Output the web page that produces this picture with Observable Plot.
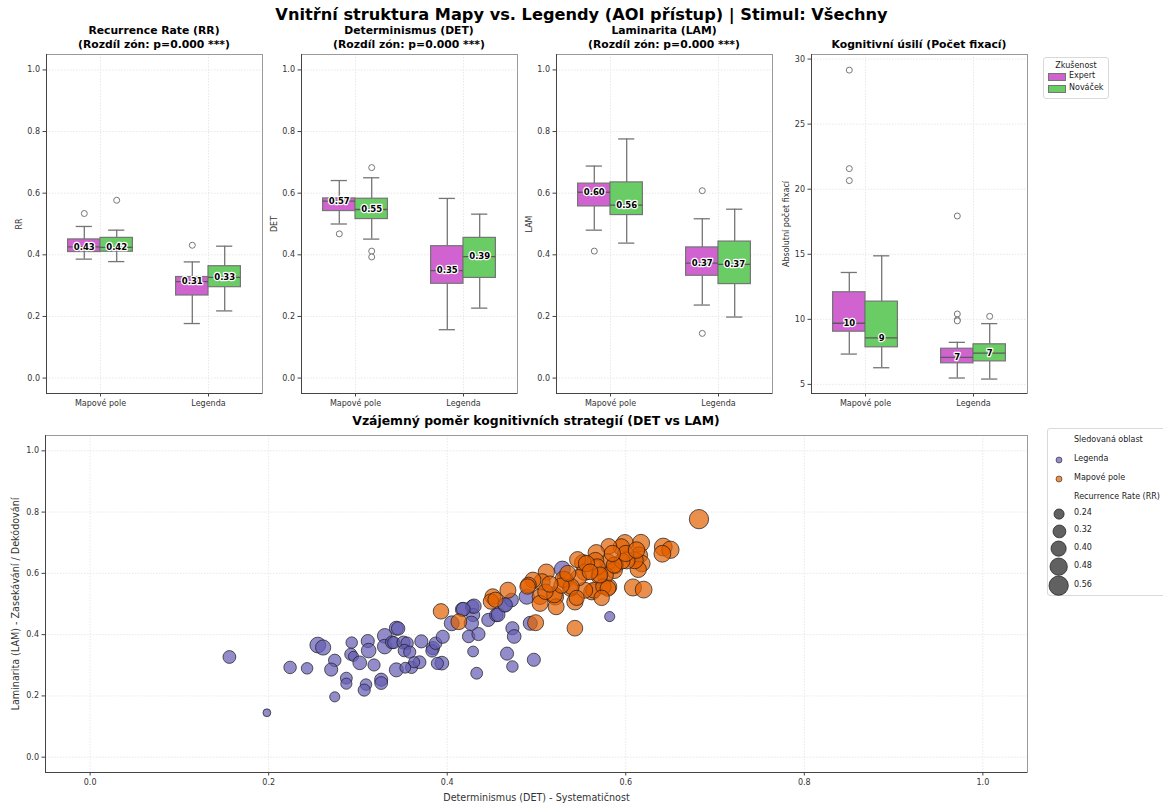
<!DOCTYPE html>
<html><head><meta charset="utf-8">
<script src="https://cdn.jsdelivr.net/npm/d3@7"></script>
<script src="https://cdn.jsdelivr.net/npm/@observablehq/plot@0.6"></script>
<style>
body{margin:0;width:1163px;height:803px;position:relative;background:#fff;font-family:"DejaVu Sans",sans-serif;overflow:hidden;color:#222}
.abs{position:absolute}
.ttl{position:absolute;font-weight:bold;text-align:center;color:#000;white-space:nowrap}
.lg{position:absolute;border:1px solid #d9d9d9;border-radius:3px;background:#fff;font-size:8px}
.lg span{position:absolute;white-space:nowrap}
</style></head><body>
<script>
// ---------------- DATA ----------------
const zones = ["Mapové pole", "Legenda"];
const groups = ["Expert", "Nováček"];
const groupColors = ["#d163d1", "#6acc65"];
// box order: Expert-Mapové, Nováček-Mapové, Expert-Legenda, Nováček-Legenda
const boxZone = [0, 0, 1, 1];
const boxGroup = [0, 1, 0, 1];

const rrLow  = [0.386, 0.378, 0.177, 0.218];
const rrQ1   = [0.409, 0.410, 0.268, 0.295];
const rrMed  = [0.426, 0.424, 0.313, 0.327];
const rrQ3   = [0.450, 0.455, 0.328, 0.363];
const rrHigh = [0.492, 0.480, 0.377, 0.428];
const rrOut  = [[0.534], [0.577], [0.431], []];

const detLow  = [0.500, 0.451, 0.157, 0.227];
const detQ1   = [0.542, 0.516, 0.306, 0.325];
const detMed  = [0.574, 0.547, 0.349, 0.394];
const detQ3   = [0.583, 0.582, 0.428, 0.455];
const detHigh = [0.641, 0.650, 0.583, 0.532];
const detOut  = [[0.468], [0.683, 0.412, 0.393], [], []];

const lamLow  = [0.480, 0.438, 0.237, 0.198];
const lamQ1   = [0.557, 0.529, 0.332, 0.305];
const lamMed  = [0.603, 0.561, 0.373, 0.369];
const lamQ3   = [0.631, 0.635, 0.424, 0.443];
const lamHigh = [0.688, 0.776, 0.517, 0.548];
const lamOut  = [[0.412], [], [0.608, 0.145], []];

const fixLow  = [7.33, 6.28, 5.49, 5.41];
const fixQ1   = [9.05, 7.85, 6.62, 6.77];
const fixMed  = [9.70, 8.57, 7.08, 7.41];
const fixQ3   = [12.08, 11.36, 7.74, 8.08];
const fixHigh = [13.6, 14.88, 8.23, 9.67];
const fixOut  = [[29.15, 21.58, 20.66], [], [17.94, 10.41, 9.95, 9.88], [10.23]];

const unitTicks = [0, 0.2, 0.4, 0.6, 0.8, 1.0];
const fixTicks = [5, 10, 15, 20, 25, 30];

// Scatter: Legenda (purple)
const legDET = [0.156,0.198,0.224,0.243,0.255,0.261,0.274,0.270,0.274,0.293,0.292,0.295,0.287,0.287,0.302,0.311,0.312,0.318,0.309,0.307,0.326,0.326,0.330,0.330,0.338,0.343,0.345,0.343,0.340,0.351,0.355,0.352,0.358,0.360,0.369,0.371,0.384,0.383,0.387,0.395,0.394,0.405,0.417,0.428,0.429,0.427,0.424,0.435,0.429,0.433,0.430,0.446,0.455,0.464,0.472,0.473,0.475,0.467,0.473,0.497,0.489,0.529,0.582,0.493,0.418,0.363,0.389,0.353,0.457,0.465];
const legLAM = [0.327,0.145,0.293,0.290,0.366,0.358,0.316,0.286,0.197,0.374,0.336,0.329,0.258,0.240,0.308,0.379,0.348,0.301,0.237,0.219,0.253,0.242,0.396,0.361,0.375,0.421,0.420,0.285,0.374,0.374,0.372,0.348,0.343,0.293,0.310,0.378,0.356,0.347,0.372,0.393,0.307,0.437,0.482,0.491,0.464,0.437,0.394,0.402,0.345,0.274,0.493,0.448,0.464,0.497,0.513,0.421,0.394,0.338,0.296,0.318,0.524,0.614,0.459,0.437,0.483,0.310,0.306,0.292,0.465,0.497];
const legRR  = [0.32,0.18,0.31,0.28,0.42,0.40,0.31,0.33,0.24,0.28,0.30,0.24,0.29,0.27,0.35,0.33,0.38,0.30,0.28,0.30,0.33,0.32,0.38,0.38,0.32,0.36,0.34,0.36,0.30,0.33,0.31,0.31,0.30,0.30,0.32,0.33,0.33,0.31,0.31,0.33,0.35,0.39,0.36,0.34,0.33,0.37,0.31,0.33,0.26,0.29,0.37,0.33,0.34,0.36,0.35,0.33,0.35,0.33,0.28,0.33,0.40,0.43,0.24,0.36,0.35,0.27,0.30,0.26,0.35,0.37];

// Scatter: Mapové pole (orange)
const mapDET = [0.682,0.642,0.650,0.641,0.617,0.615,0.618,0.614,0.610,0.599,0.595,0.581,0.601,0.608,0.620,0.588,0.580,0.587,0.581,0.577,0.570,0.567,0.566,0.568,0.552,0.546,0.554,0.562,0.564,0.554,0.547,0.543,0.532,0.521,0.522,0.538,0.511,0.506,0.504,0.504,0.496,0.491,0.499,0.543,0.468,0.451,0.449,0.393,0.413,0.530,0.539,0.520,0.510,0.575,0.580,0.571,0.556,0.596,0.490,0.454,0.587,0.560,0.528,0.515,0.535,0.600,0.612,0.585,0.545,0.573];
const mapLAM = [0.777,0.686,0.677,0.664,0.699,0.659,0.632,0.613,0.643,0.699,0.686,0.688,0.642,0.554,0.547,0.626,0.637,0.610,0.556,0.594,0.591,0.667,0.641,0.621,0.634,0.645,0.604,0.540,0.545,0.545,0.586,0.507,0.578,0.524,0.491,0.551,0.604,0.572,0.524,0.502,0.578,0.562,0.439,0.421,0.545,0.524,0.508,0.476,0.442,0.581,0.557,0.530,0.540,0.557,0.551,0.595,0.632,0.640,0.557,0.514,0.627,0.605,0.560,0.565,0.600,0.665,0.676,0.665,0.520,0.520];
const mapRR  = [0.56,0.50,0.48,0.46,0.48,0.46,0.45,0.44,0.47,0.47,0.45,0.42,0.46,0.47,0.46,0.46,0.44,0.45,0.43,0.44,0.43,0.45,0.46,0.44,0.46,0.43,0.45,0.44,0.42,0.43,0.44,0.44,0.45,0.46,0.43,0.42,0.44,0.45,0.42,0.43,0.43,0.42,0.43,0.42,0.43,0.42,0.41,0.41,0.42,0.44,0.42,0.43,0.41,0.41,0.42,0.43,0.44,0.42,0.41,0.40,0.43,0.42,0.41,0.44,0.43,0.44,0.45,0.44,0.40,0.41];

const zoneNames = ["Legenda", "Mapové pole"];
const zoneColors = ["#645db3", "#e35f00"];

// ---------------- HELPERS ----------------
const FONT = "DejaVu Sans";
const gridC = "#dedede";
function el(tag, cls, style, html) {
  const e = document.createElement(tag);
  if (cls) e.className = cls;
  Object.assign(e.style, style || {});
  if (html != null) e.innerHTML = html;
  document.body.appendChild(e);
  return e;
}
function boxRows(low, q1, med, q3, high) {
  return boxZone.map((z, i) => ({
    zi: z, gi: boxGroup[i], xc: z + (boxGroup[i] === 0 ? -0.15 : 0.15),
    low: low[i], q1: q1[i], med: med[i], q3: q3[i], high: high[i]
  }));
}
function outRows(outs) {
  return outs.flatMap((arr, i) => arr.map(v => ({xc: boxZone[i] + (boxGroup[i] === 0 ? -0.15 : 0.15), v})));
}
const lineC = "#757575";
function panel({left, rows, outs, yDomain, yTicks, yFmt, yLabel, labelFmt, labelOffset}) {
  const marks = [
    Plot.gridY(yTicks, {stroke: gridC, strokeOpacity: 1, strokeDasharray: "1.5,1.5", strokeWidth: 0.7}),
    Plot.gridX([0, 1], {stroke: gridC, strokeOpacity: 1, strokeDasharray: "1.5,1.5", strokeWidth: 0.7}),
    Plot.axisX([0, 1], {tickFormat: i => zones[i], tickSize: 3.5, tickPadding: 3, label: null, fontSize: 8, stroke: "#444"}),
    Plot.axisY(yTicks, {tickFormat: yFmt, tickSize: 3.5, tickPadding: 3, label: yLabel, labelAnchor: "center", labelArrow: "none", labelOffset, fontSize: 8, stroke: "#444"}),
    Plot.ruleX(rows, {x: "xc", y1: "low", y2: "q1", stroke: lineC, strokeWidth: 1.3}),
    Plot.ruleX(rows, {x: "xc", y1: "q3", y2: "high", stroke: lineC, strokeWidth: 1.3}),
    Plot.ruleY(rows, {y: "low", x1: d => d.xc - 0.075, x2: d => d.xc + 0.075, stroke: lineC, strokeWidth: 1.3}),
    Plot.ruleY(rows, {y: "high", x1: d => d.xc - 0.075, x2: d => d.xc + 0.075, stroke: lineC, strokeWidth: 1.3}),
    Plot.rect(rows, {x1: d => d.xc - 0.15, x2: d => d.xc + 0.15, y1: "q1", y2: "q3", fill: d => groupColors[d.gi], stroke: lineC, strokeWidth: 1.2}),
    Plot.ruleY(rows, {y: "med", x1: d => d.xc - 0.15, x2: d => d.xc + 0.15, stroke: "#5a5a5a", strokeWidth: 1.3}),
    Plot.dot(outs, {x: "xc", y: "v", r: 3, stroke: "#777", strokeWidth: 1, fill: "white"}),
    Plot.text(rows, {x: "xc", y: "med", text: d => labelFmt(d.med), fontWeight: "bold", fill: "#000", stroke: "white", strokeWidth: 2.5, fontSize: 8.5, fontFamily: FONT}),
    Plot.frame({stroke: "#9a9a9a", strokeWidth: 1}),
    Plot.ruleX([-0.5], {stroke: "#444", strokeWidth: 1}),
    Plot.ruleY([yDomain[0]], {stroke: "#444", strokeWidth: 1})
  ];
  const p = Plot.plot({
    width: 270, height: 410, marginLeft: 46, marginRight: 8, marginTop: 54, marginBottom: 17,
    x: {domain: [-0.5, 1.5]},
    y: {domain: yDomain},
    style: {fontFamily: FONT, fontSize: "8px", color: "#333", background: "transparent", overflow: "visible"},
    marks
  });
  p.style.position = "absolute"; p.style.left = (left - 46) + "px"; p.style.top = "0px";
  document.body.appendChild(p);
}

// ---------------- TITLES ----------------
el("div", "ttl", {left: "0px", width: "1163px", top: "5px", fontSize: "16.2px"}, "Vnitřní struktura Mapy vs. Legendy (AOI přístup) | Stimul: Všechny");
const ptitles = [
  [46, "Recurrence Rate (RR)<br>(Rozdíl zón: p=0.000 ***)"],
  [301, "Determinismus (DET)<br>(Rozdíl zón: p=0.000 ***)"],
  [556, "Laminarita (LAM)<br>(Rozdíl zón: p=0.000 ***)"],
  [811, "Kognitivní úsilí (Počet fixací)"]
];
ptitles.forEach(([l, t], i) => el("div", "ttl", {left: (l - 40) + "px", width: "296px", top: (i === 3 ? 38 : 24) + "px", fontSize: "10.8px", lineHeight: "14px"}, t));

// ---------------- BOX PANELS ----------------
const f2 = d3.format(".2f"), f0 = d3.format(".0f"), f1 = d3.format(".1f");
panel({left: 46, rows: boxRows(rrLow, rrQ1, rrMed, rrQ3, rrHigh), outs: outRows(rrOut), yDomain: [-0.05, 1.05], yTicks: unitTicks, yFmt: f1, yLabel: "RR", labelFmt: f2, labelOffset: 30});
panel({left: 301, rows: boxRows(detLow, detQ1, detMed, detQ3, detHigh), outs: outRows(detOut), yDomain: [-0.05, 1.05], yTicks: unitTicks, yFmt: f1, yLabel: "DET", labelFmt: f2, labelOffset: 30});
panel({left: 556, rows: boxRows(lamLow, lamQ1, lamMed, lamQ3, lamHigh), outs: outRows(lamOut), yDomain: [-0.05, 1.05], yTicks: unitTicks, yFmt: f1, yLabel: "LAM", labelFmt: f2, labelOffset: 30});
panel({left: 811, rows: boxRows(fixLow, fixQ1, fixMed, fixQ3, fixHigh), outs: outRows(fixOut), yDomain: [4.3, 30.35], yTicks: fixTicks, yFmt: f0, yLabel: "Absolutní počet fixací", labelFmt: f0, labelOffset: 28});

// legend Zkušenost
const lg1 = el("div", "lg", {left: "1043px", top: "57px", width: "64px", height: "40px"});
lg1.innerHTML = `<span style="left:0;width:64px;text-align:center;top:3px">Zkušenost</span>` +
  groups.map((g, i) => `<span style="left:4px;top:${15 + i * 12}px;width:16px;height:6px;background:${groupColors[i]};border:0.8px solid ${lineC}"></span><span style="left:25px;top:${13 + i * 12}px">${g}</span>`).join("");

// ---------------- SCATTER ----------------
el("div", "ttl", {left: "45px", width: "982px", top: "413px", fontSize: "12.4px"}, "Vzájemný poměr kognitivních strategií (DET vs LAM)");
const pts = [
  ...legDET.map((d, i) => ({zone: zoneNames[0], det: d, lam: legLAM[i], rr: legRR[i]})),
  ...mapDET.map((d, i) => ({zone: zoneNames[1], det: d, lam: mapLAM[i], rr: mapRR[i]}))
];
const sc = Plot.plot({
  width: 1040, height: 393, marginLeft: 45, marginRight: 13, marginTop: 25, marginBottom: 31,
  x: {domain: [-0.05, 1.05]},
  y: {domain: [-0.05, 1.05]},
  r: {type: "pow", exponent: 0.5, domain: [0.18, 0.58], range: [3.9, 9.9]},
  color: {domain: zoneNames, range: zoneColors},
  style: {fontFamily: FONT, fontSize: "8px", color: "#333", background: "transparent", overflow: "visible"},
  marks: [
    Plot.gridX(unitTicks, {stroke: gridC, strokeOpacity: 1, strokeDasharray: "1.5,1.5", strokeWidth: 0.7}),
    Plot.gridY(unitTicks, {stroke: gridC, strokeOpacity: 1, strokeDasharray: "1.5,1.5", strokeWidth: 0.7}),
    Plot.axisX(unitTicks, {tickFormat: f1, tickSize: 3.5, tickPadding: 3, fontSize: 8, stroke: "#444", label: null}),
    Plot.axisX({label: "Determinismus (DET) - Systematičnost", labelAnchor: "center", labelArrow: "none", labelOffset: 28, fontSize: 9.6, ticks: [], tickSize: 0}),
    Plot.axisY(unitTicks, {tickFormat: f1, tickSize: 3.5, tickPadding: 3, fontSize: 8, stroke: "#444", label: null}),
    Plot.axisY({label: "Laminarita (LAM) - Zasekávání / Dekódování", labelAnchor: "center", labelArrow: "none", labelOffset: 33, fontSize: 9.6, ticks: [], tickSize: 0}),
    Plot.dot(pts, {x: "det", y: "lam", r: "rr", fill: "zone", fillOpacity: 0.7, stroke: "#1a1a1a", strokeOpacity: 0.7, strokeWidth: 1, sort: null}),
    Plot.frame({stroke: "#9a9a9a", strokeWidth: 1}),
    Plot.ruleX([-0.05], {stroke: "#444", strokeWidth: 1}),
    Plot.ruleY([-0.05], {stroke: "#444", strokeWidth: 1})
  ]
});
sc.style.position = "absolute"; sc.style.left = "0px"; sc.style.top = "410px";
document.body.appendChild(sc);

// scatter legend
const rS = sc.scale("r"), cS = sc.scale("color");
const sizeVals = [0.24, 0.32, 0.40, 0.48, 0.56];
const lg2 = el("div", "lg", {left: "1047px", top: "428px", width: "130px", height: "166px"});
let h = `<span style="left:26px;top:6px">Sledovaná oblast</span>`;
zoneNames.forEach((z, i) => {
  const y = 31 + i * 19;
  h += `<svg style="position:absolute;left:5px;top:${y - 6}px" width="12" height="12"><circle cx="6" cy="6" r="3" fill="${cS.apply(z)}" fill-opacity="0.7" stroke="#1a1a1a" stroke-opacity="0.7" stroke-width="0.8"/></svg><span style="left:26px;top:${y - 6}px">${z}</span>`;
});
h += `<span style="left:26px;top:63px">Recurrence Rate (RR)</span>`;
const sy = [85, 102, 120, 138, 157];
sizeVals.forEach((v, i) => {
  const r = rS.apply(v);
  h += `<svg style="position:absolute;left:${11 - r - 1}px;top:${sy[i] - r - 1}px;overflow:visible" width="${2 * r + 2}" height="${2 * r + 2}"><circle cx="${r + 1}" cy="${r + 1}" r="${r}" fill="#3a3a3a" fill-opacity="0.8" stroke="#1a1a1a" stroke-opacity="0.7" stroke-width="1"/></svg><span style="left:26px;top:${sy[i] - 6}px">${f2(v)}</span>`;
});
lg2.innerHTML = h;
</script>
</body></html>
